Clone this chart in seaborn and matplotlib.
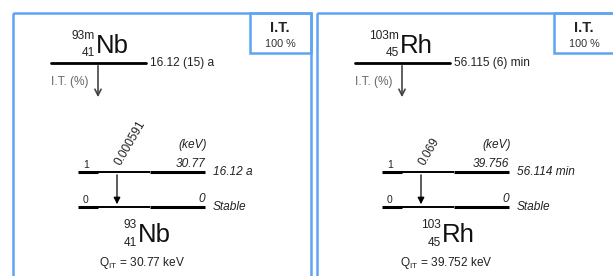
import matplotlib
matplotlib.use("Agg")
import matplotlib.pyplot as plt
import seaborn as sns
from matplotlib.patches import Rectangle

# ---- data ----
elements = ["Nb", "Rh"]
mass_numbers = [93, 103]
atomic_numbers = [41, 45]
parent_halflives = ["16.12 (15) a", "56.115 (6) min"]
decay_mode = "I.T."
branching = ["100 %", "100 %"]
level_indices = ["1", "0"]
level_energies = [["30.77", "0"], ["39.756", "0"]]
level_halflives = [["16.12 a", "Stable"], ["56.114 min", "Stable"]]
gamma_intensities = ["0.000591", "0.069"]
q_values = ["30.77", "39.752"]

sns.set_theme(style="white")
plt.rcParams["font.family"] = ["Liberation Sans", "DejaVu Sans"]

W, H = 613, 276
fig = plt.figure(figsize=(W / 100, H / 100), dpi=100)
ax = fig.add_axes([0, 0, 1, 1])
ax.set_xlim(0, W)
ax.set_ylim(H, 0)
ax.axis("off")

blue = "#5ea4f2"
small = 8.6
sup = 8.6
big = 18.5

for i, el in enumerate(elements):
    x0 = 13 + i * 304
    # panel frame
    ax.add_patch(Rectangle((x0, 13), 298, 280, fill=False, ec=blue, lw=1.8))
    ax.add_patch(Rectangle((x0 + 237, 13), 61, 40, fill=False, ec=blue, lw=1.8))
    ax.text(x0 + 267, 28, decay_mode, ha="center", va="center", fontsize=10.5, fontweight="bold", color="#222222")
    ax.text(x0 + 267, 44, branching[i], ha="center", va="center", fontsize=7.8, color="#333333")

    # parent symbol
    sx = x0 + 82
    ax.text(sx, 36, f"{mass_numbers[i]}m", ha="right", va="center", fontsize=sup, color="#222222")
    ax.text(sx, 53, f"{atomic_numbers[i]}", ha="right", va="center", fontsize=sup, color="#222222")
    ax.text(sx + 1, 46, el, ha="left", va="center", fontsize=big, color="#111111")

    # parent level
    ax.plot([x0 + 38, x0 + 133], [63, 63], color="black", lw=2)
    ax.text(x0 + 137, 63, parent_halflives[i], ha="left", va="center", fontsize=small, color="#222222")
    ax.text(x0 + 38, 82, "I.T. (%)", ha="left", va="center", fontsize=small, color="#666666")
    ax.annotate("", xy=(x0 + 85, 100), xytext=(x0 + 85, 63),
                arrowprops=dict(arrowstyle="->", color="#444444", lw=1.2, mutation_scale=11))

    # daughter levels
    lx0, lx1 = x0 + 65, x0 + 192
    ys = [172, 207]
    for j, y in enumerate(ys):
        ax.plot([lx0, lx0 + 20], [y, y], color="black", lw=2.2, solid_capstyle="butt")
        ax.plot([lx0 + 20, lx0 + 72], [y, y], color="black", lw=1.4, solid_capstyle="butt")
        ax.plot([lx0 + 72, lx1], [y, y], color="black", lw=2.2, solid_capstyle="butt")
        ax.text(lx0 + 5, y - 7, level_indices[j], ha="left", va="center", fontsize=7.5, color="#222222")
        ax.text(lx1, y - 8, level_energies[i][j], ha="right", va="center", fontsize=small, style="italic", color="#222222")
        ax.text(lx1 + 8, y, level_halflives[i][j], ha="left", va="center", fontsize=small, style="italic", color="#222222")
    ax.text(lx1 - 12, 145, "(keV)", ha="center", va="center", fontsize=small, style="italic", color="#222222")

    # gamma
    gx = x0 + 104
    ax.annotate("", xy=(gx, ys[1]), xytext=(gx, ys[0]),
                arrowprops=dict(arrowstyle="-|>", color="black", lw=0.9, mutation_scale=10))
    ax.text(gx + 6, ys[0] - 4, gamma_intensities[i], rotation=60, rotation_mode="anchor",
            ha="left", va="bottom", fontsize=small, color="#222222")

    # daughter symbol
    dx = x0 + 124
    ax.text(dx, 225, f"{mass_numbers[i]}", ha="right", va="center", fontsize=sup, color="#222222")
    ax.text(dx, 243, f"{atomic_numbers[i]}", ha="right", va="center", fontsize=sup, color="#222222")
    ax.text(dx + 1, 235, el, ha="left", va="center", fontsize=big, color="#111111")

    ax.text(x0 + 129, 263, r"Q$_{\mathregular{IT}}$ = " + f"{q_values[i]} keV", ha="center", va="center",
            fontsize=small, color="#222222")

fig.savefig("out.png", dpi=100)
